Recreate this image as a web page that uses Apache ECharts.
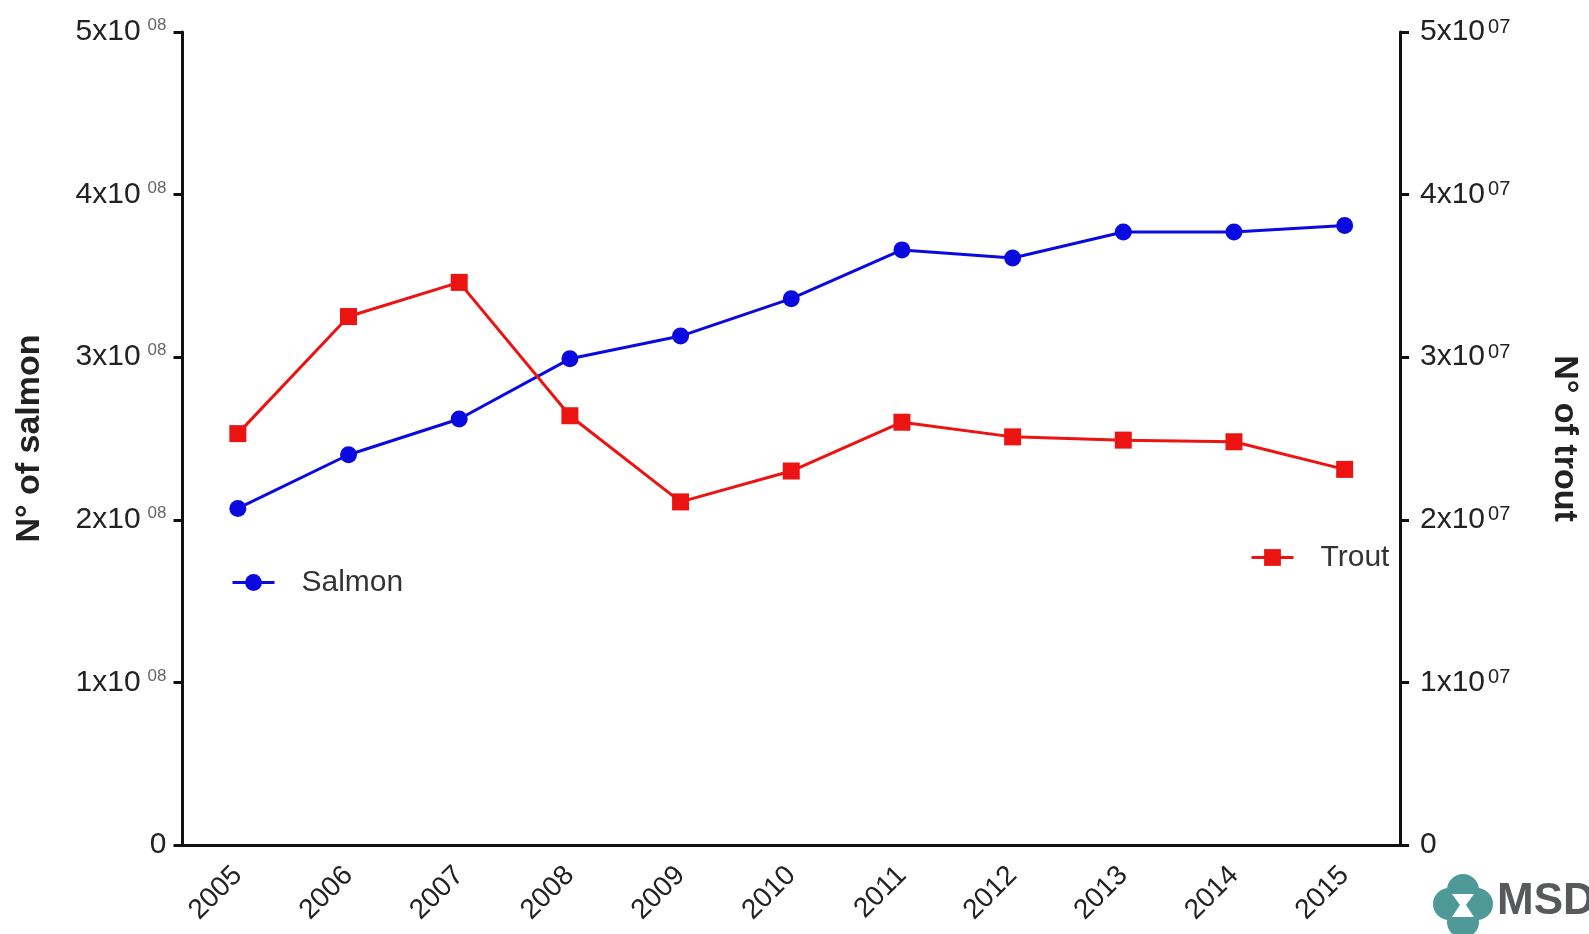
<!DOCTYPE html>
<html>
<head>
<meta charset="utf-8">
<script src="https://cdn.jsdelivr.net/npm/echarts@6/dist/echarts.min.js"></script>
<style>html,body{margin:0;padding:0;background:#fff;}#chart{width:1589px;height:934px;}</style>
</head>
<body>
<div id="chart"></div>
<script>
const years = ['2005','2006','2007','2008','2009','2010','2011','2012','2013','2014','2015'];
const salmon = [2.07e8, 2.40e8, 2.62e8, 2.99e8, 3.13e8, 3.36e8, 3.66e8, 3.61e8, 3.77e8, 3.77e8, 3.81e8];
const trout = [2.53e7, 3.25e7, 3.46e7, 2.64e7, 2.11e7, 2.30e7, 2.60e7, 2.51e7, 2.49e7, 2.48e7, 2.31e7];
const leftTicks = ['0','1x10','2x10','3x10','4x10','5x10'];
const rightTicks = ['0','1x10','2x10','3x10','4x10','5x10'];

const FONT = 'Liberation Sans, Arial, sans-serif';
const BLUE = '#0a0ae0';
const RED = '#ec1313';
const AX = '#111';
const TEAL = '#4f9a98';

const chart = echarts.init(document.getElementById('chart'), null, {renderer:'canvas'});
const option = {
  backgroundColor: '#fff',
  animation: false,
  grid: {left: 182.5, right: 181.5, top: 32, bottom: 89, containLabel: false},
  legend: [
    {data: ['Salmon'], left: 226, top: 562.5, itemWidth: 42, itemHeight: 21,
     lineStyle: {width: 3},
     textStyle: {fontFamily: FONT, fontSize: 30, color: '#333', padding: [0,0,0,22]}},
    {data: ['Trout'], left: 1245, top: 537.5, itemWidth: 42, itemHeight: 21,
     lineStyle: {width: 3},
     textStyle: {fontFamily: FONT, fontSize: 30, color: '#333', padding: [0,0,0,22]}}
  ],
  xAxis: {
    type: 'category', data: years, boundaryGap: true,
    axisLine: {lineStyle: {color: AX, width: 3}},
    axisTick: {alignWithLabel: true, length: 12, lineStyle: {color: AX, width: 3}},
    axisLabel: {rotate: 45, margin: 26, fontFamily: FONT, fontSize: 28, color: '#222'}
  },
  yAxis: [
    {
      type: 'value', min: 0, max: 5e8, interval: 1e8, position: 'left',
      name: 'N° of salmon', nameLocation: 'middle', nameGap: 136, nameRotate: 90,
      nameTextStyle: {fontFamily: FONT, fontSize: 34, fontWeight: 'bold', color: '#222'},
      splitLine: {show: false},
      axisLine: {show: true, lineStyle: {color: AX, width: 3}},
      axisTick: {show: true, length: 9, lineStyle: {color: AX, width: 3}},
      axisLabel: {
        margin: 16, fontFamily: FONT,
        formatter: (v) => { const i = Math.round(v/1e8); return i === 0 ? '{b|0}' : '{b|' + leftTicks[i] + '}{s|08}'; },
        rich: {
          b: {fontFamily: FONT, fontSize: 30, color: '#222', lineHeight: 30, verticalAlign: 'bottom'},
          s: {fontFamily: FONT, fontSize: 17, color: '#666', lineHeight: 30, verticalAlign: 'top', padding: [0,0,0,7]}
        }
      }
    },
    {
      type: 'value', min: 0, max: 5e7, interval: 1e7, position: 'right',
      name: 'N° of trout', nameLocation: 'middle', nameGap: 147, nameRotate: -90,
      nameTextStyle: {fontFamily: FONT, fontSize: 34, fontWeight: 'bold', color: '#222'},
      splitLine: {show: false},
      axisLine: {show: true, lineStyle: {color: AX, width: 3}},
      axisTick: {show: true, length: 9, lineStyle: {color: AX, width: 3}},
      axisLabel: {
        margin: 20, fontFamily: FONT,
        formatter: (v) => { const i = Math.round(v/1e7); return i === 0 ? '{b|0}' : '{b|' + rightTicks[i] + '}{s|07}'; },
        rich: {
          b: {fontFamily: FONT, fontSize: 30, color: '#222', lineHeight: 30, verticalAlign: 'bottom'},
          s: {fontFamily: FONT, fontSize: 20, color: '#222', lineHeight: 30, verticalAlign: 'top', padding: [0,0,0,3]}
        }
      }
    }
  ],
  series: [
    {name: 'Salmon', type: 'line', yAxisIndex: 0, data: salmon, symbol: 'circle', symbolSize: 17,
     itemStyle: {color: BLUE}, lineStyle: {color: BLUE, width: 3}},
    {name: 'Trout', type: 'line', yAxisIndex: 1, data: trout, symbol: 'rect', symbolSize: 17,
     itemStyle: {color: RED}, lineStyle: {color: RED, width: 3}}
  ],
  graphic: [
    {type: 'circle', shape: {cx: 1449, cy: 904, r: 16}, style: {fill: TEAL}},
    {type: 'circle', shape: {cx: 1477, cy: 904, r: 16}, style: {fill: TEAL}},
    {type: 'circle', shape: {cx: 1463, cy: 890, r: 16}, style: {fill: TEAL}},
    {type: 'circle', shape: {cx: 1463, cy: 922, r: 16}, style: {fill: TEAL}},
    {type: 'polygon', shape: {points: [[1452,894],[1474,894],[1466,905],[1474,917],[1452,917],[1460,905]]}, style: {fill: '#fff'}},
    {type: 'text', left: 1497, top: 880, style: {text: 'MSD', fontFamily: FONT, fontSize: 44, fontWeight: 'bold', fill: '#58595b'}}
  ]
};
chart.setOption(option);
</script>
</body>
</html>
